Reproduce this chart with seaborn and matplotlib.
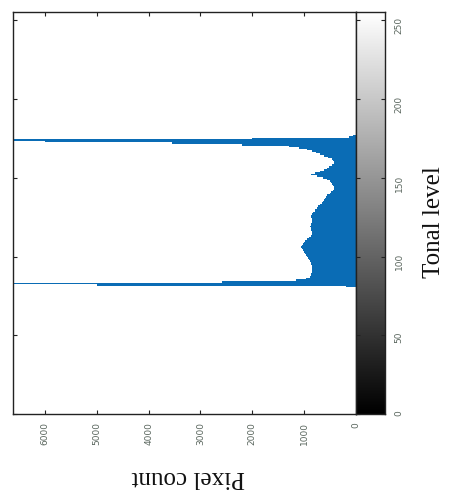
import numpy as np
import pandas as pd
import matplotlib
matplotlib.use("Agg")
import matplotlib.pyplot as plt
import seaborn as sns

# ---- data ----
tonal_levels = list(range(81, 178))
pixel_counts = [
    200, 5000, 7200, 2580, 1150, 960, 880, 870, 860, 850,          # 81-90
    850, 840, 850, 850, 860, 870, 880, 900, 920, 940,              # 91-100
    960, 980, 1000, 1030, 1050, 1060, 1050, 1020, 1000, 980,       # 101-110
    950, 900, 860, 850, 840, 850, 860, 870, 880, 870,              # 111-120
    860, 850, 840, 850, 860, 870, 850, 820, 800, 790,              # 121-130
    750, 730, 700, 660, 640, 620, 600, 580, 550, 510,              # 131-140
    480, 440, 420, 420, 440, 460, 480, 510, 560, 640,              # 141-150
    760, 870, 800, 700, 620, 560, 520, 470, 430, 420,              # 151-160
    440, 470, 540, 620, 700, 780, 850, 950, 1100, 1290,            # 161-170
    2190, 3540, 6000, 7200, 2000, 130, 60,                         # 171-177
]
count_ticks = [0, 1000, 2000, 3000, 4000, 5000, 6000]
level_ticks = [0, 50, 100, 150, 200, 250]

df = pd.DataFrame({"level": tonal_levels, "count": pixel_counts})

sns.set_style("white")
plt.rcParams["font.family"] = ["DejaVu Sans"]

W, H = 451, 498
fig = plt.figure(figsize=(W / 100, H / 100), dpi=100)
ax = fig.add_axes([12.7 / W, 1 - 414 / H, (356 - 12.7) / W, (414 - 12.5) / H])
cax = fig.add_axes([356 / W, 1 - 414 / H, (385 - 356) / W, (414 - 12.5) / H])

blue = "#0a6cb5"
sns.histplot(data=df, y="level", weights="count", discrete=True,
             element="step", fill=True, color=blue, alpha=1, linewidth=0, ax=ax)

ax.set_ylim(0, 255)
ax.set_xlim(6620, 0)
ax.set_xticks(count_ticks)
ax.set_xticklabels([str(v) for v in count_ticks], rotation=90, fontsize=6.5,
                   color="#5b675f")
ax.set_yticks(level_ticks)
ax.set_yticklabels([])
ax.tick_params(axis="both", direction="in", length=3, width=0.8, color="#222222",
               top=True, bottom=True, left=True, right=False, pad=6)
ax.set_xlabel("Pixel count", family="Liberation Serif", fontsize=18,
              rotation=180, labelpad=15, color="#111111")
ax.xaxis.label.set_x(0.511)
ax.set_ylabel("")
for s in ax.spines.values():
    s.set_color("#222222")
    s.set_linewidth(1.0)

# gray colour bar of tonal levels
grad = np.linspace(0, 255, 256)[:, None]
cax.imshow(grad, cmap="gray", origin="lower", aspect="auto",
           extent=[0, 1, 0, 255], vmin=0, vmax=255)
cax.set_xlim(0, 1)
cax.set_ylim(0, 255)
cax.set_xticks([])
cax.set_yticks(level_ticks)
cax.yaxis.tick_right()
cax.tick_params(axis="y", direction="in", length=3, width=0.8, color="#222222",
                left=True, right=True, labelsize=6.5, labelcolor="#5b675f",
                labelrotation=90, pad=7)
for s in cax.spines.values():
    s.set_color("#222222")
    s.set_linewidth(1.0)
cax.set_ylabel("Tonal level", family="Liberation Serif", fontsize=18,
               rotation=90, labelpad=14, color="#111111")
cax.yaxis.set_label_position("right")
cax.yaxis.label.set_y(0.478)

fig.savefig("out.png", dpi=100, facecolor="white")
